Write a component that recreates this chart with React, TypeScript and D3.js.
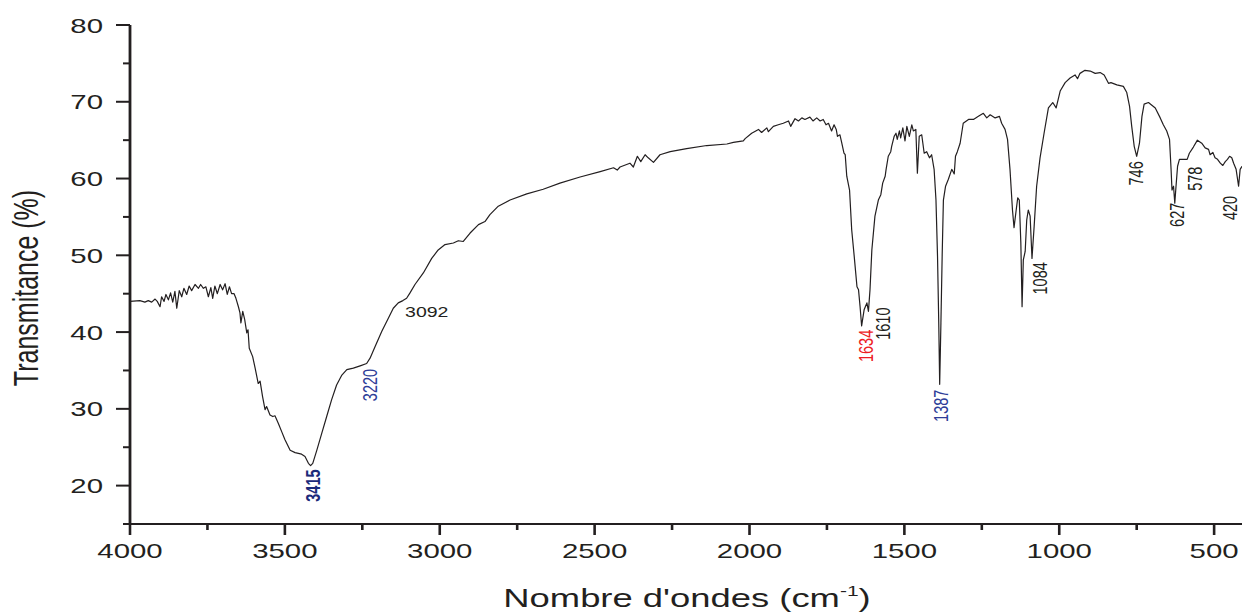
import React from "react";
import * as d3 from "d3";

// ---- Data ----
const wavenumber = [4000,3968,3952,3941,3930,3919,3912,3903,3898,3890,3884,3876,3869,3862,3855,3849,3841,3833,3826,3817,3809,3801,3790,3779,3772,3763,3755,3747,3739,3733,3726,3718,3709,3701,3693,3686,3679,3672,3664,3658,3650,3645,3642,3636,3630,3623,3619,3615,3604,3596,3586,3580,3572,3564,3559,3548,3539,3532,3521,3510,3500,3483,3467,3446,3435,3424,3417,3410,3397,3381,3365,3349,3333,3316,3300,3279,3257,3236,3225,3209,3187,3166,3150,3134,3119,3107,3096,3080,3053,3026,3005,2983,2956,2940,2924,2902,2875,2854,2838,2811,2773,2719,2666,2612,2547,2482,2439,2427,2418,2386,2375,2362,2351,2337,2327,2310,2289,2256,2203,2138,2073,2052,2020,2014,1993,1971,1961,1944,1939,1923,1907,1891,1874,1867,1853,1842,1831,1821,1805,1795,1783,1772,1762,1753,1745,1735,1727,1720,1716,1708,1702,1695,1691,1686,1677,1670,1662,1653,1648,1643,1638,1630,1621,1616,1611,1605,1595,1584,1576,1570,1562,1559,1552,1544,1541,1533,1527,1523,1516,1512,1505,1498,1492,1484,1476,1471,1463,1458,1452,1444,1436,1428,1419,1412,1404,1398,1393,1389,1386,1382,1378,1374,1367,1358,1347,1339,1335,1329,1320,1310,1293,1277,1261,1245,1234,1223,1207,1193,1186,1175,1167,1159,1151,1146,1139,1134,1129,1124,1120,1116,1110,1105,1100,1094,1088,1081,1073,1062,1049,1035,1021,1010,997,981,965,949,941,933,917,900,884,868,855,841,833,814,793,782,773,766,758,750,741,733,726,712,690,674,664,653,644,639,636,631,627,623,618,612,599,587,580,567,554,540,529,518,513,504,497,489,480,472,464,457,450,443,437,429,421,416,410];

const transmittance = [44.0,44.1,43.9,44.1,43.9,44.3,44.0,43.3,44.6,44.0,44.9,44.2,45.1,43.9,45.3,43.1,45.4,44.6,45.7,44.9,46.0,45.4,46.2,45.7,46.2,45.7,45.9,44.6,45.8,44.4,46.0,45.0,46.2,45.5,46.3,44.9,45.9,45.0,45.0,44.4,43.3,42.5,41.2,42.7,41.7,39.9,40.3,37.9,36.8,35.3,33.3,33.6,31.6,29.9,30.3,29.2,29.0,29.1,28.1,27.0,26.0,24.6,24.3,24.1,23.8,22.9,22.6,22.9,24.6,26.8,29.0,31.2,33.1,34.4,35.1,35.3,35.6,35.9,36.6,38.1,40.1,41.8,43.1,43.8,44.1,44.4,45.1,46.2,47.7,49.6,50.7,51.4,51.6,51.9,51.8,52.9,54.0,54.4,55.3,56.4,57.2,58.0,58.6,59.4,60.2,60.9,61.4,61.1,61.5,62.0,61.5,62.9,62.2,63.1,62.7,62.1,63.1,63.5,63.9,64.3,64.5,64.7,64.9,65.2,65.9,66.4,66.0,66.6,66.1,66.8,67.0,67.2,67.5,66.8,67.8,67.5,67.9,67.7,68.0,67.5,67.9,67.5,67.7,67.0,67.2,66.2,67.0,66.4,65.5,65.7,64.6,63.3,63.1,60.3,58.5,53.3,49.9,45.9,45.5,43.3,40.8,42.9,43.8,42.7,45.5,50.7,55.1,57.2,57.9,59.4,60.3,61.2,62.9,63.5,64.2,65.5,65.9,65.1,66.2,65.3,66.6,64.9,66.8,65.5,67.0,66.2,66.4,60.7,65.5,65.7,63.3,63.5,62.7,63.1,61.2,57.2,49.9,41.2,33.2,41.2,49.9,57.2,59.0,59.9,61.2,60.6,62.9,63.5,64.6,67.2,67.7,67.7,68.1,68.5,67.9,68.3,67.9,68.1,67.2,66.4,65.1,61.2,55.9,53.6,55.9,57.5,57.2,51.6,43.3,49.4,50.5,54.6,55.9,55.1,49.6,53.8,59.0,62.7,65.9,69.2,69.9,69.2,71.4,72.5,73.1,73.5,73.0,73.7,74.1,74.0,73.7,73.8,73.5,72.4,72.5,72.2,72.0,71.2,69.4,66.8,64.2,62.9,64.6,68.1,69.7,69.9,69.2,67.9,67.0,66.2,65.1,61.2,58.5,59.0,56.8,59.0,61.6,62.5,62.5,62.5,63.3,64.1,65.0,64.6,64.0,63.8,63.1,63.4,62.7,62.5,62.0,61.7,62.2,62.5,62.9,62.7,62.0,61.2,59.0,61.2,61.6];

const xTickValues = [4000, 3500, 3000, 2500, 2000, 1500, 1000, 500];
const xMinorTicks = [3750, 3250, 2750, 2250, 1750, 1250, 750];
const yTickValues = [20, 30, 40, 50, 60, 70, 80];
const yMinorTicks = [15, 25, 35, 45, 55, 65, 75];

// peak labels: text, anchor wavenumber, anchor transmittance (bottom of rotated text)
const peakLabels = ["3415", "3220", "1634", "1610", "1387", "1084", "746", "627", "578", "420"];
const peakLabelWn = [3409, 3225, 1624, 1569, 1381, 1062, 752, 619, 561, 448];
const peakLabelT = [17.9, 31.0, 36.1, 39.0, 28.3, 44.9, 59.1, 53.7, 58.4, 54.6];
const peakLabelKind = ["bold", "blue", "red", "black", "blue", "black", "black", "black", "black", "black"];
const flatLabel = { text: "3092", wn: 3112, t: 41.9 };

const W = 1242;
const H = 613;
const FONT = "'Liberation Sans', Arial, Helvetica, sans-serif";
const INK = "#231f20";
const SX = 1.4;

const kindColor: Record<string, string> = {
  bold: "#1c2a7a",
  blue: "#2e3d98",
  red: "#ed1c24",
  black: INK,
};

export default function App() {
  const x = d3.scaleLinear().domain([4000, 410]).range([130, 1242]);
  const y = d3.scaleLinear().domain([15, 80]).range([524, 25]);

  const pts = wavenumber.map((w, i) => [w, transmittance[i]] as [number, number]);
  const line = d3
    .line<[number, number]>()
    .x((d) => x(d[0]))
    .y((d) => y(d[1]));

  const x0 = x(4000);
  const yBase = y(15);

  return (
    <svg
      width={W}
      height={H}
      style={{ position: "absolute", left: 0, top: 0, background: "#fff" }}
      fontFamily={FONT}
    >
      <rect x={0} y={0} width={W} height={H} fill="#fff" />
      {/* spectrum */}
      <path d={line(pts) || ""} fill="none" stroke={INK} strokeWidth={1.2} strokeLinejoin="round" />

      {/* y axis */}
      <line x1={x0} x2={x0} y1={y(80)} y2={yBase + 1} stroke={INK} strokeWidth={2.8} />
      {yTickValues.map((v) => (
        <g key={"yt" + v}>
          <line x1={x0 - 14} x2={x0} y1={y(v)} y2={y(v)} stroke={INK} strokeWidth={2} />
          <text
            transform={`translate(${x0 - 27},${y(v) + 7.5}) scale(${SX},1)`}
            textAnchor="end"
            fontSize={21}
            fill={INK}
          >
            {v}
          </text>
        </g>
      ))}
      {yMinorTicks.map((v) => (
        <line key={"ym" + v} x1={x0 - 7} x2={x0} y1={y(v)} y2={y(v)} stroke={INK} strokeWidth={2} />
      ))}

      {/* x axis */}
      <line x1={x0 - 7} x2={W} y1={yBase} y2={yBase} stroke={INK} strokeWidth={2.2} />
      {xTickValues.map((v) => (
        <g key={"xt" + v}>
          <line x1={x(v)} x2={x(v)} y1={yBase} y2={yBase + 11} stroke={INK} strokeWidth={2.6} />
          <text
            transform={`translate(${x(v)},${yBase + 34}) scale(${SX},1)`}
            textAnchor="middle"
            fontSize={21}
            fill={INK}
          >
            {v}
          </text>
        </g>
      ))}
      {xMinorTicks.map((v) => (
        <line key={"xm" + v} x1={x(v)} x2={x(v)} y1={yBase} y2={yBase + 6} stroke={INK} strokeWidth={2.6} />
      ))}

      {/* axis titles */}
      <text
        transform={`translate(687,607) scale(${SX},1)`}
        textAnchor="middle"
        fontSize={26}
        fill={INK}
      >
        Nombre d'ondes (cm
        <tspan fontSize={15} dy={-11}>-1</tspan>
        <tspan dy={11}>)</tspan>
      </text>
      <text
        transform={`translate(38,288) rotate(-90) scale(1,${SX})`}
        textAnchor="middle"
        fontSize={25}
        fill={INK}
      >
        Transmitance (%)
      </text>

      {/* peak annotations */}
      {peakLabels.map((lab, i) => (
        <text
          key={"pk" + lab}
          transform={`translate(${x(peakLabelWn[i])},${y(peakLabelT[i])}) rotate(-90) scale(1,${SX})`}
          textAnchor="start"
          dominantBaseline="central"
          fontSize={14.5}
          fontWeight={peakLabelKind[i] === "bold" ? 600 : "normal"}
          fill={kindColor[peakLabelKind[i]]}
        >
          {lab}
        </text>
      ))}
      <text
        transform={`translate(${x(flatLabel.wn)},${y(flatLabel.t)}) scale(1.3,1)`}
        fontSize={15}
        fill={INK}
      >
        {flatLabel.text}
      </text>
    </svg>
  );
}
